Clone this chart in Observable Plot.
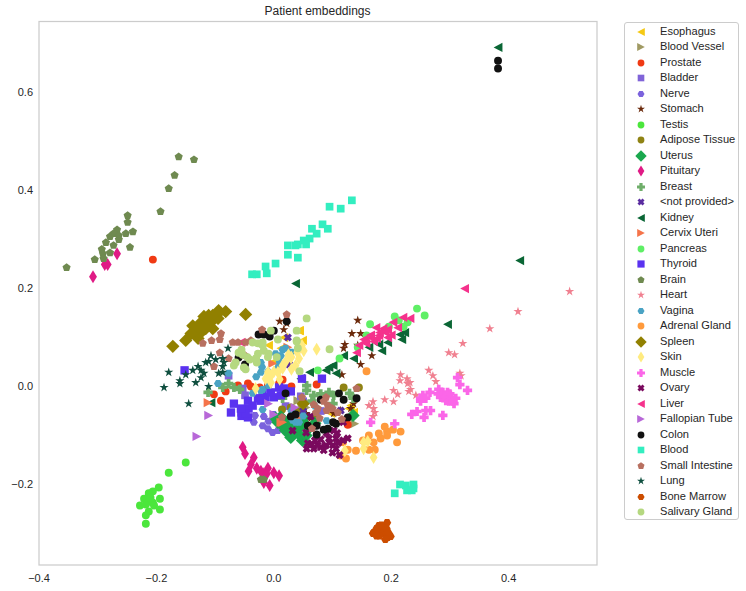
<!DOCTYPE html>
<html><head><meta charset="utf-8">
<script src="https://cdn.jsdelivr.net/npm/d3@7"></script>
<script src="https://cdn.jsdelivr.net/npm/@observablehq/plot@0.6"></script>
<style>
body{margin:0;background:#fff;font-family:"Liberation Sans",Arial,sans-serif;color:#262626}
#wrap{position:relative;width:746px;height:591px;overflow:hidden}
#title{position:absolute;left:38px;width:559px;top:4px;text-align:center;font-size:12px;line-height:14px}
#legend{position:absolute;left:624px;top:21.5px;width:115px;height:498.5px;border:1px solid #ccc;border-radius:3px;box-sizing:border-box}
.row{position:absolute;left:0;height:15.5px;width:112px;font-size:11.1px;line-height:15.5px;white-space:nowrap}
.row svg{position:absolute;left:5px;top:0}
.row span{position:absolute;left:35px;top:0}
</style></head><body><div id="wrap"><div id="chart"></div><div id="title">Patient embeddings</div><div id="legend"></div></div>
<script>
const esophagus=[[-.009,.084],[.017,.100],[.043,.114],[.012,.078],[0,.051],[.049,.094],[.044,.114],[.131,-.039],[.136,-.053],[.097,-.055],[.128,-.045]];
const bloodVessel=[[.138,-.076],[.041,-.029],[.048,-.045],[.051,-.055],[.058,-.033],[.055,-.043],[.034,-.045]];
const prostate=[[-.206,.259],[-.102,-.016],[-.082,-.010],[-.090,-.029],[-.061,.002],[-.044,.006],[-.039,0],[.015,.014],[.073,.004],[.126,-.078],[-.010,.002],[.009,.006],[-.024,-.002],[.03,0]];
const bladder=[[-.077,.022],[-.053,-.004],[-.049,-.018],[.046,-.020],[.05,-.03],[.08,-.05],[.02,-.04]];
const nerve=[[-.032,-.059],[-.017,-.061],[0,-.057],[-.034,-.073],[-.019,-.080],[-.010,-.086],[-.002,-.094],[-.009,-.071],[.009,-.073],[.017,-.086],[.007,-.090]];
const stomach=[[.143,.135],[.133,.108],[.148,.108],[.121,.086],[.119,.078],[.143,.084],[.148,.045],[.167,.063],[.116,.024],[.010,.133],[.022,.129],[.017,.116],[.055,-.055],[.102,-.055],[.136,-.035],[.131,-.045],[.114,-.049],[.063,-.065]];
const testis=[[-.150,-.155],[-.179,-.176],[-.196,-.206],[-.206,-.214],[-.213,-.218],[-.194,-.229],[-.221,-.229],[-.213,-.235],[-.228,-.243],[-.218,-.241],[-.206,-.237],[-.204,-.243],[-.194,-.251],[-.213,-.255],[-.218,-.263],[-.218,-.280],[-.210,-.227]];
const adipose=[[.119,-.002],[.145,-.002],[.014,-.047],[.029,-.043],[.07,-.06],[.04,-.05]];
const uterus=[[.007,-.073],[.015,-.080],[.029,-.086],[.041,-.086],[.049,-.073],[.049,-.110],[.017,-.073],[.135,-.059],[.051,-.065],[.029,-.104],[.037,-.080],[.003,-.065],[.02,-.09],[.035,-.095],[.012,-.062],[.045,-.1],[.06,-.085],[.025,-.07],[.07,-.075],[.055,-.1]];
const pituitary=[[-.267,.271],[-.288,.249],[-.283,.249],[-.308,.224],[-.053,-.124],[-.049,-.137],[-.034,-.145],[-.039,-.159],[-.043,-.173],[-.029,-.167],[-.022,-.173],[-.017,-.178],[-.010,-.167],[-.012,-.178],[0,-.176],[.009,-.182],[-.017,-.196],[-.007,-.202]];
const breast=[[-.112,-.012],[-.087,-.002],[-.077,.006],[-.068,-.002],[-.058,-.006],[.015,-.024],[.056,.002],[.056,-.008],[.068,-.018],[.094,-.012],[.102,-.018],[.129,-.014],[.135,-.024],[.101,-.035],[.08,-.015],[.065,-.03]];
const notProvided=[[.024,.100],[.026,.045],[.114,-.049],[.05,-.05]];
const kidney=[[.382,.692],[.419,.257],[.037,.210],[.296,.127],[.223,.110],[.215,.106],[.218,.096],[.194,.090],[.179,.086],[.184,.073],[.162,.080],[.136,.057],[.119,.063],[.101,.043],[.094,.039],[.089,.033],[.106,.027],[.061,.029],[.046,.016],[-.107,-.033]];
const cervix=[[-.112,-.033],[.015,-.073],[-.002,.047],[.046,-.063],[.012,-.073],[.024,.08]];
const pancreas=[[.244,.159],[.257,.145],[.206,.143],[.164,.127],[.228,.131],[.213,.135],[.196,.122],[.221,.122],[.158,.104],[.112,.057],[.075,.033],[.143,.080]];
const thyroid=[[-.152,.033],[-.068,-.035],[-.073,-.053],[-.055,-.053],[-.055,-.060],[-.044,-.063],[-.043,-.045],[-.044,-.029],[-.027,-.024],[-.014,-.022],[0,-.022],[.009,-.002],[.017,-.004],[.029,-.010],[.02,-.012],[.048,.016],[.082,.016],[-.022,-.029],[-.005,-.012],[-.036,-.039],[.012,-.018],[-.048,-.055],[-.056,-.045],[-.019,-.012]];
const brain=[[-.162,.469],[-.136,.463],[-.169,.431],[-.179,.404],[-.193,.357],[-.249,.349],[-.249,.335],[-.240,.316],[-.252,.312],[-.267,.320],[-.273,.312],[-.279,.306],[-.264,.308],[-.264,.300],[-.286,.294],[-.273,.288],[-.245,.284],[-.293,.280],[-.291,.271],[-.279,.273],[-.290,.261],[-.305,.259],[-.353,.243],[-.017,-.190],[-.022,-.190]];
const heart=[[.504,.194],[.416,.153],[.368,.118],[.322,.088],[.298,.069],[.308,.065],[.264,.033],[.271,.022],[.276,.010],[.317,.027],[.319,.022],[.216,.024],[.215,.012],[.227,.016],[.232,.008],[.228,.006],[.233,-.006],[.230,-.010],[.204,-.008],[.211,-.016],[.242,-.018],[.189,-.027],[.204,-.031],[.169,-.031],[.162,-.039],[.170,-.045],[.172,-.053],[.169,-.061]];
const vagina=[[-.077,.027],[-.095,.006],[-.036,-.014],[-.022,-.008],[-.009,.002],[-.022,.049],[-.022,.029],[.003,.067],[.012,.063],[.007,.039],[-.019,-.047],[.02,.078],[-.019,-.006],[.037,-.073],[.032,-.069],[.043,-.073],[.03,-.05],[.05,-.06],[.09,-.07],[.01,.05],[-.02,.04],[.03,.07],[.015,.075],[-.01,.03],[-.03,.02],[.07,-.04]];
const adrenal=[[.158,.031],[.189,-.082],[.203,-.088],[.216,-.092],[.193,-.092],[.193,-.100],[.179,-.096],[.182,-.106],[.210,-.114],[.162,-.100],[.152,-.110],[.170,-.114],[.162,-.129],[.172,-.129],[.140,-.131],[.123,-.147],[.126,-.129],[.114,-.141],[.118,-.114]];
const spleen=[[-.172,.082],[-.150,.094],[-.129,.098],[-.138,.124],[-.124,.120],[-.116,.131],[-.111,.145],[-.104,.118],[-.095,.139],[-.094,.155],[-.082,.153],[-.048,.147],[-.124,.110],[-.095,.149],[.05,-.035],[-.133,.114],[-.124,.131],[-.116,.118],[-.107,.131],[-.119,.143],[-.104,.145],[-.141,.108],[-.128,.122],[-.112,.135]];
const skin=[[.073,.076],[.051,.073],[.048,.084],[.043,.057],[.037,.043],[.015,.037],[.007,.029],[-.005,.022],[-.014,.016],[-.005,.008],[.029,.059],[-.031,-.004],[-.010,.029],[.015,.043],[.153,-.114],[.160,-.112],[.153,-.127],[.170,-.145],[.121,-.131],[.03,.06],[.04,.07],[.02,.05],[0,.03],[.03,.035],[.025,.065],[-.01,.02],[.01,.015]];
const muscle=[[.266,-.012],[.254,-.018],[.250,-.024],[.259,-.024],[.250,-.030],[.281,-.006],[.288,-.012],[.296,-.012],[.284,-.022],[.293,-.029],[.302,-.022],[.310,-.024],[.307,-.035],[.330,-.008],[.313,.018],[.317,.004],[.244,-.051],[.235,-.057],[.259,-.049],[.267,-.049],[.256,-.063],[.288,-.059],[.206,-.076],[.165,-.073],[.29,-.02],[.298,-.03],[.28,-.015],[.3,-.015],[.305,-.03]];
const ovary=[[.032,-.090],[.055,-.094],[.063,-.061],[.118,-.073],[.126,-.106],[.058,-.116],[.056,-.127],[.068,-.127],[.080,-.124],[.080,-.108],[.094,-.106],[.102,-.090],[.106,-.106],[.106,-.127],[.089,-.120],[.118,-.110],[.101,-.120],[.075,-.120],[.09,-.095],[.07,-.11],[.11,-.115],[.095,-.115],[.085,-.13],[.1,-.135],[.065,-.118],[.108,-.095],[.112,-.14]];
const liver=[[.325,.200],[.232,.139],[.220,.141],[.203,.131],[.211,.120],[.194,.116],[.174,.120],[.186,.118],[.179,.104],[.194,.100],[.165,.100],[.153,.096],[.170,.092],[.145,.084],[.141,.069],[.157,.088],[-.056,.090],[.19,.11],[.18,.11],[.2,.105],[.165,.105],[.155,.09],[.175,.098]];
const fallopian=[[-.131,-.102],[-.111,-.059],[-.009,-.035],[0,-.057],[.036,-.043]];
const colon=[[.382,.665],[.382,.649],[-.026,.106],[-.017,.106],[-.007,.102],[0,.114],[.022,.133],[-.060,.059],[-.049,.045],[.020,-.014],[.029,-.061],[.037,-.057],[.080,-.027],[.111,-.014],[.119,-.027],[.141,-.024],[.126,-.063],[.101,-.073],[.106,-.076],[.058,-.080],[.073,-.080],[.073,-.098],[.085,-.088],[.092,-.086]];
const blood=[[.133,.380],[.114,.363],[.095,.367],[.083,.331],[.092,.322],[.065,.322],[.073,.312],[.061,.302],[.051,.298],[.055,.290],[.041,.290],[.037,.288],[.024,.288],[.024,.269],[.041,.263],[.003,.251],[-.014,.245],[-.012,.231],[-.037,.229],[-.029,.229],[.206,-.218],[.215,-.200],[.225,-.202],[.227,-.212],[.235,-.212],[.238,-.200],[.238,-.208]];
const smallIntestine=[[-.090,.108],[-.106,.094],[-.092,.096],[-.121,.088],[-.070,.090],[-.061,.090],[-.048,.090],[-.039,.094],[-.020,.116],[.022,.147],[-.092,.069],[-.077,.057],[-.102,.041],[-.049,.063],[.048,-.022],[.014,-.063],[.068,-.037],[.089,-.022],[.092,-.039],[.072,-.053],[.090,-.049],[.109,-.053],[.078,-.065],[.116,-.067],[.065,-.086],[.141,-.004],[.085,-.03],[.075,-.045],[.1,-.045]];
const lung=[[-.187,-.002],[-.179,.029],[-.160,.012],[-.160,.006],[-.150,.024],[-.138,.033],[-.129,.041],[-.124,.033],[-.119,.027],[-.124,.018],[-.133,.008],[-.116,.049],[-.107,.063],[-.111,.051],[-.099,.055],[-.087,.057],[-.085,.049],[-.087,.041],[-.094,.027],[-.087,.029],[-.078,.078],[-.111,0],[-.145,-.035]];
const boneMarrow=[[.193,-.278],[.179,-.284],[.170,-.298],[.182,-.294],[.187,-.290],[.199,-.306],[.194,-.308],[.177,-.300],[.191,-.300],[.169,-.300],[.175,-.29],[.185,-.30],[.18,-.305],[.187,-.285],[.192,-.29],[.183,-.283],[.175,-.305],[.195,-.298],[.19,-.312]];
const salivary=[[-.005,.114],[-.036,.090],[-.027,.088],[-.019,.090],[-.019,.084],[.007,.096],[.039,.114],[.039,.094],[-.060,.069],[-.053,.065],[-.027,.067],[-.017,.073],[-.009,.067],[-.041,.055],[-.065,.049],[-.068,.043],[-.051,.039],[-.048,.035],[-.029,.049],[.041,.078],[.056,.139],[.039,.092],[.095,.076],[.044,.031],[-.055,.075],[-.045,.06],[-.03,.058],[-.01,.06],[.005,.06]];
const xTicks=[-.4,-.2,0,.2,.4];
const yTicks=[-.2,0,.2,.4,.6];

const poly=pts=>({draw(c,size){const k=Math.sqrt(size/Math.PI);pts.forEach((p,i)=>i?c.lineTo(p[0]*k,p[1]*k):c.moveTo(p[0]*k,p[1]*k));c.closePath();}});
const ngon=(n,rot=-90,rad=1)=>poly(d3.range(n).map(i=>{const a=(rot+i*360/n)*Math.PI/180;return[rad*Math.cos(a),rad*Math.sin(a)]}));
const star=poly(d3.range(10).map(i=>{const a=(-90+i*36)*Math.PI/180,r=i%2?.42:1.1;return[r*Math.cos(a),r*Math.sin(a)]}));
const circle={draw(c,size){const r=Math.sqrt(size/Math.PI);c.moveTo(r,0);c.arc(0,0,r,0,2*Math.PI);c.closePath();}};
const square=poly([[-1,-1],[1,-1],[1,1],[-1,1]]);
const left=poly([[-1,0],[1,-1.05],[1,1.05]]);
const right=poly([[1,0],[-1,-1.05],[-1,1.05]]);
const diamond=poly([[0,-1.4],[1.4,0],[0,1.4],[-1.4,0]]);
const thin=poly([[0,-1.4],[.85,0],[0,1.4],[-.85,0]]);
const t=.42,m=1.05;
const plus=poly([[-t,-m],[t,-m],[t,-t],[m,-t],[m,t],[t,t],[t,m],[-t,m],[-t,t],[-m,t],[-m,-t],[-t,-t]]);
const xm=poly([[-t,-m],[t,-m],[t,-t],[m,-t],[m,t],[t,t],[t,m],[-t,m],[-t,t],[-m,t],[-m,-t],[-t,-t]].map(([x,y])=>{const h=Math.SQRT1_2*1.05;return[(x-y)*h,(x+y)*h]}));
const pent=ngon(5,-90,1.05),hex=ngon(6,0,1.05);

const series=[
["Esophagus",esophagus,left,"#f5c914",4],
["Blood Vessel",bloodVessel,right,"#a09a63",4],
["Prostate",prostate,circle,"#f03a14",3.6],
["Bladder",bladder,square,"#8064d8",3.5],
["Nerve",nerve,hex,"#7b62dd",3.5],
["Stomach",stomach,star,"#6b2a0c",4],
["Testis",testis,circle,"#4be63c",3.6],
["Adipose Tissue",adipose,circle,"#8f8314",3.6],
["Uterus",uterus,diamond,"#1aa84e",4.3],
["Pituitary",pituitary,thin,"#e01a85",4.2],
["Breast",breast,plus,"#6fae6a",4],
["<not provided>",notProvided,xm,"#5a2ca0",3.4],
["Kidney",kidney,left,"#0a6635",4],
["Cervix Uteri",cervix,right,"#f5744a",4],
["Pancreas",pancreas,circle,"#5fef66",3.6],
["Thyroid",thyroid,square,"#5a32f0",3.8],
["Brain",brain,pent,"#6f8a50",3.7],
["Heart",heart,star,"#f08090",4],
["Vagina",vagina,hex,"#4aa3c4",3.5],
["Adrenal Gland",adrenal,circle,"#ff9a3c",3.6],
["Spleen",spleen,diamond,"#918000",4.3],
["Skin",skin,thin,"#ffeb80",4.2],
["Muscle",muscle,plus,"#fb66e8",4],
["Ovary",ovary,xm,"#7a0a5e",3.4],
["Liver",liver,left,"#f5328c",4],
["Fallopian Tube",fallopian,right,"#b868d8",4],
["Colon",colon,circle,"#111111",3.6],
["Blood",blood,square,"#33eec0",3.5],
["Small Intestine",smallIntestine,pent,"#b87060",3.7],
["Lung",lung,star,"#0f4f3f",4],
["Bone Marrow",boneMarrow,hex,"#cc4d00",3.6],
["Salivary Gland",salivary,circle,"#b5d880",3.6]
];

const minus=d=>d===0?"0.0":d3.format(".1f")(d).replace("-","\u2212");
const chart=Plot.plot({
  width:746,height:591,marginLeft:38.5,marginRight:149.5,marginTop:21,marginBottom:26.5,
  style:{fontFamily:'"Liberation Sans",Arial,sans-serif',fontSize:"11px",color:"#262626",background:"#fff"},
  x:{domain:[-.4,.5506]},
  y:{domain:[-.3643,.745]},
  marks:[
    Plot.axisX({ticks:xTicks,tickSize:0,tickPadding:9,tickFormat:minus,label:null,fontSize:11}),
    Plot.axisY({ticks:yTicks,tickSize:0,tickPadding:6,tickFormat:minus,label:null,fontSize:11}),
    ...series.map(([name,data,sym,col,r])=>Plot.dot(data,{x:d=>d[0],y:d=>d[1],symbol:sym,fill:col,r:r*1.1,title:()=>name})),
    Plot.frame({stroke:"#cccccc",strokeWidth:1.25})
  ]
});
document.getElementById("chart").append(chart);

const legend=document.getElementById("legend");
series.forEach(([name,,sym,col,r],i)=>{
  const row=document.createElement("div");row.className="row";row.style.top=(1+i*15.5)+"px";
  const p=d3.path();sym.draw(p,r*r*Math.PI*.9);
  row.innerHTML=`<svg width="22" height="16" viewBox="-11 -8 22 16"><path fill="${col}" d="${p.toString()}"></path></svg><span></span>`;
  row.querySelector("span").textContent=name;
  legend.append(row);
});
</script></body></html>
